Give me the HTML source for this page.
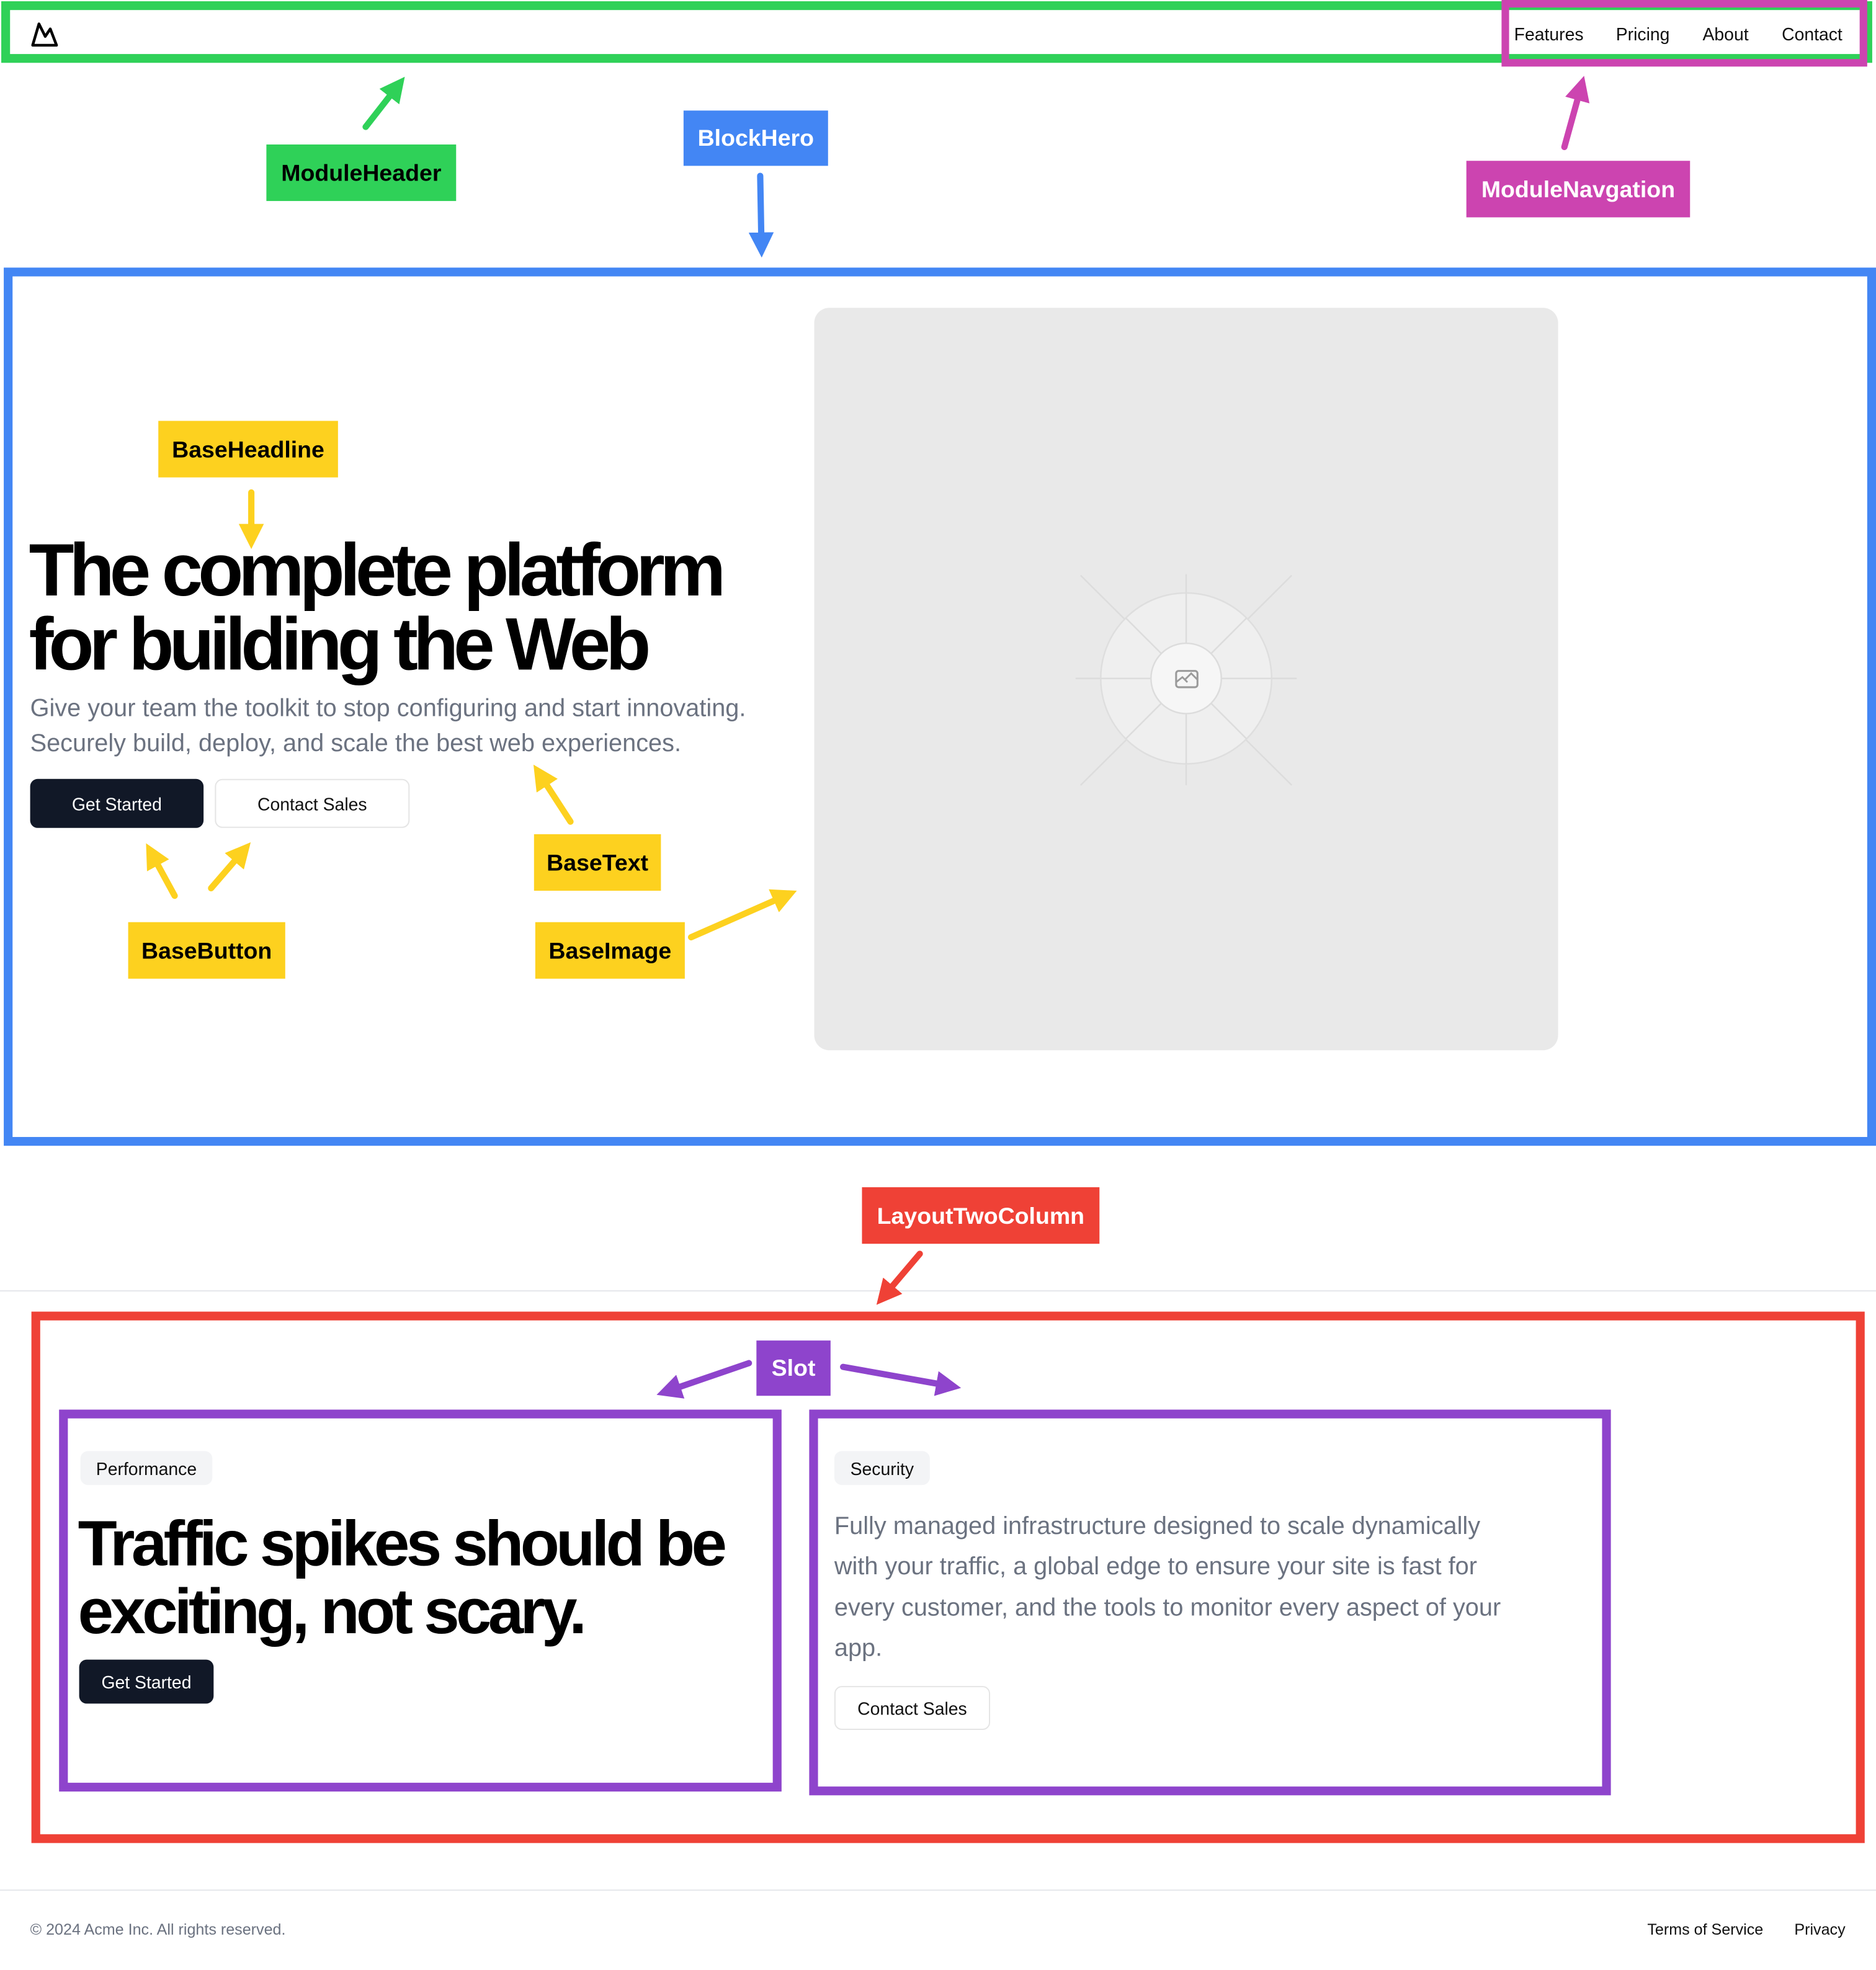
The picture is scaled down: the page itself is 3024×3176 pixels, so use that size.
<!DOCTYPE html>
<html><head><meta charset="utf-8">
<style>
html,body{margin:0;padding:0;background:#fff;}
body{width:3024px;height:3176px;overflow:hidden;position:relative;font-family:"Liberation Sans",sans-serif;}
#w{position:absolute;left:0;top:0;width:1493px;height:1568px;transform:scale(2.02545);transform-origin:0 0;}
.a{position:absolute;box-sizing:border-box;}
.lbl{position:absolute;font-weight:bold;font-size:18.5px;display:flex;align-items:center;justify-content:center;font-family:"Liberation Sans",sans-serif;}
.btn{position:absolute;box-sizing:border-box;border-radius:6px;font-size:14px;display:flex;align-items:center;justify-content:center;}
.dark{background:#111827;color:#fff;}
.light{background:#fff;border:1px solid #e5e5e5;color:#111;}
.badge{position:absolute;background:#f3f4f6;border-radius:6px;font-size:14px;color:#111;display:flex;align-items:center;justify-content:center;}
.h{position:absolute;font-weight:bold;color:#000;white-space:nowrap;}
</style></head><body>
<div id="w">
<!-- header -->
<div class="a" style="left:1px;top:1px;width:1489px;height:49px;border:7px solid #2fd158;"></div>
<svg class="a" style="left:24px;top:16px" width="24" height="22" viewBox="0 0 24 22"><path d="M2 20 L7 3 L12 13 L16 7 L21 20 Z" fill="none" stroke="#000" stroke-width="2.2" stroke-linejoin="round"/></svg>
<div class="a" style="left:1195px;top:0;width:291px;height:53px;border:6px solid #cc44b0;"></div>
<div class="a" style="left:1205px;top:19px;font-size:14px;color:#111;">Features</div>
<div class="a" style="left:1286px;top:19px;font-size:14px;color:#111;">Pricing</div>
<div class="a" style="left:1355px;top:19px;font-size:14px;color:#111;">About</div>
<div class="a" style="left:1418px;top:19px;font-size:14px;color:#111;">Contact</div>

<div class="lbl" style="left:212px;top:115px;width:151px;height:45px;background:#2fd158;color:#000;">ModuleHeader</div>
<div class="lbl" style="left:544px;top:88px;width:115px;height:44px;background:#4386f4;color:#fff;">BlockHero</div>
<div class="lbl" style="left:1167px;top:128px;width:178px;height:45px;background:#cc44b0;color:#fff;">ModuleNavgation</div>

<!-- hero -->
<div class="a" style="left:3px;top:213px;width:1490px;height:699px;border:7px solid #4386f4;"></div>
<div class="a" style="left:648px;top:245px;width:592px;height:591px;background:#e9e9e9;border-radius:12px;"></div>
<svg class="a" style="left:648px;top:245px" width="592" height="591">
 <g stroke="#dcdcdc" stroke-width="1.2">
  <line x1="296" y1="212" x2="296" y2="380"/><line x1="208" y1="295" x2="384" y2="295"/>
  <line x1="212" y1="213" x2="380" y2="380"/><line x1="380" y1="213" x2="212" y2="380"/>
 </g>
 <circle cx="296" cy="295" r="68" fill="#efefef" stroke="#dedede" stroke-width="1.2"/>
 <g stroke="#dcdcdc" stroke-width="1.2">
  <line x1="296" y1="227" x2="296" y2="363"/><line x1="228" y1="295" x2="364" y2="295"/>
  <line x1="248" y1="247" x2="344" y2="343"/><line x1="344" y1="247" x2="248" y2="343"/>
 </g>
 <circle cx="296" cy="295" r="28" fill="#f6f6f6" stroke="#dcdcdc" stroke-width="1.2"/>
 <rect x="288" y="289" width="17" height="13" rx="2" fill="none" stroke="#9a9a9a" stroke-width="1.5"/>
 <path d="M288 298 L293 294 L297 298 M295 296 L300 291 L305 296" fill="none" stroke="#9a9a9a" stroke-width="1.4"/>
</svg>

<div class="lbl" style="left:126px;top:335px;width:143px;height:45px;background:#fdd11f;color:#000;">BaseHeadline</div>
<div class="h" style="left:23px;top:425px;font-size:59px;line-height:59px;letter-spacing:-3.9px;">The complete platform<br>for building the Web</div>
<div class="a" style="left:24px;top:550px;font-size:19.6px;line-height:28px;color:#6b7280;white-space:nowrap;">Give your team the toolkit to stop configuring and start innovating.<br>Securely build, deploy, and scale the best web experiences.</div>
<div class="btn dark" style="left:24px;top:620px;width:138px;height:39px;">Get Started</div>
<div class="btn light" style="left:171px;top:620px;width:155px;height:39px;">Contact Sales</div>
<div class="lbl" style="left:425px;top:664px;width:101px;height:45px;background:#fdd11f;color:#000;">BaseText</div>
<div class="lbl" style="left:102px;top:734px;width:125px;height:45px;background:#fdd11f;color:#000;">BaseButton</div>
<div class="lbl" style="left:426px;top:734px;width:119px;height:45px;background:#fdd11f;color:#000;">BaseImage</div>

<!-- two column -->
<div class="lbl" style="left:686px;top:945px;width:189px;height:45px;background:#ef4136;color:#fff;">LayoutTwoColumn</div>
<div class="a" style="left:0;top:1027px;width:1493px;height:1px;background:#e5e7eb;"></div>
<div class="a" style="left:25px;top:1044px;width:1459px;height:423px;border:7px solid #ef4136;"></div>
<div class="lbl" style="left:602px;top:1067px;width:59px;height:44px;background:#8e44cc;color:#fff;">Slot</div>
<div class="a" style="left:47px;top:1122px;width:575px;height:304px;border:7px solid #8e44cc;"></div>
<div class="a" style="left:644px;top:1122px;width:638px;height:307px;border:7px solid #8e44cc;"></div>
<div class="badge" style="left:64px;top:1155px;width:105px;height:27px;">Performance</div>
<div class="h" style="left:62px;top:1202px;font-size:51px;line-height:54px;letter-spacing:-2.8px;">Traffic spikes should be<br>exciting, not scary.</div>
<div class="btn dark" style="left:63px;top:1321px;width:107px;height:35px;">Get Started</div>
<div class="badge" style="left:664px;top:1155px;width:76px;height:27px;">Security</div>
<div class="a" style="left:664px;top:1199px;font-size:19.6px;line-height:32.3px;color:#6b7280;white-space:nowrap;">Fully managed infrastructure designed to scale dynamically<br>with your traffic, a global edge to ensure your site is fast for<br>every customer, and the tools to monitor every aspect of your<br>app.</div>
<div class="btn light" style="left:664px;top:1342px;width:124px;height:35px;">Contact Sales</div>

<!-- footer -->
<div class="a" style="left:0;top:1504px;width:1493px;height:1px;background:#e5e7eb;"></div>
<div class="a" style="left:24px;top:1529px;font-size:12.4px;color:#6b7280;">© 2024 Acme Inc. All rights reserved.</div>
<div class="a" style="left:1311px;top:1529px;font-size:12.4px;color:#111;">Terms of Service</div>
<div class="a" style="left:1428px;top:1529px;font-size:12.4px;color:#111;">Privacy</div>

<!-- arrows -->
<svg class="a" style="left:0;top:0" width="1493" height="1568">
 <defs>
  <marker id="mg" markerWidth="4" markerHeight="4" refX="2" refY="2" orient="auto" markerUnits="strokeWidth"><path d="M0,0 L4,2 L0,4 Z" fill="#2fd158"/></marker>
  <marker id="mb" markerWidth="4" markerHeight="4" refX="2" refY="2" orient="auto" markerUnits="strokeWidth"><path d="M0,0 L4,2 L0,4 Z" fill="#4386f4"/></marker>
  <marker id="mm" markerWidth="4" markerHeight="4" refX="2" refY="2" orient="auto" markerUnits="strokeWidth"><path d="M0,0 L4,2 L0,4 Z" fill="#cc44b0"/></marker>
  <marker id="my" markerWidth="4" markerHeight="4" refX="2" refY="2" orient="auto" markerUnits="strokeWidth"><path d="M0,0 L4,2 L0,4 Z" fill="#fdd11f"/></marker>
  <marker id="mr" markerWidth="4" markerHeight="4" refX="2" refY="2" orient="auto" markerUnits="strokeWidth"><path d="M0,0 L4,2 L0,4 Z" fill="#ef4136"/></marker>
  <marker id="mp" markerWidth="4" markerHeight="4" refX="2" refY="2" orient="auto" markerUnits="strokeWidth"><path d="M0,0 L4,2 L0,4 Z" fill="#8e44cc"/></marker>
 </defs>
 <g stroke-width="5" stroke-linecap="round" fill="none">
  <line x1="291" y1="101" x2="316" y2="69" stroke="#2fd158" marker-end="url(#mg)"/>
  <line x1="605" y1="140" x2="606" y2="195" stroke="#4386f4" marker-end="url(#mb)"/>
  <line x1="1245" y1="117" x2="1258" y2="70" stroke="#cc44b0" marker-end="url(#mm)"/>
  <line x1="200" y1="392" x2="200" y2="427" stroke="#fdd11f" marker-end="url(#my)"/>
  <line x1="139" y1="713" x2="121" y2="680" stroke="#fdd11f" marker-end="url(#my)"/>
  <line x1="168" y1="707" x2="193" y2="678" stroke="#fdd11f" marker-end="url(#my)"/>
  <line x1="454" y1="654" x2="430" y2="617" stroke="#fdd11f" marker-end="url(#my)"/>
  <line x1="550" y1="746" x2="625" y2="713" stroke="#fdd11f" marker-end="url(#my)"/>
  <line x1="732" y1="998" x2="704" y2="1031" stroke="#ef4136" marker-end="url(#mr)"/>
  <line x1="596" y1="1085" x2="532" y2="1107" stroke="#8e44cc" marker-end="url(#mp)"/>
  <line x1="671" y1="1088" x2="755" y2="1103" stroke="#8e44cc" marker-end="url(#mp)"/>
 </g>
</svg>
</div>
</body></html>
